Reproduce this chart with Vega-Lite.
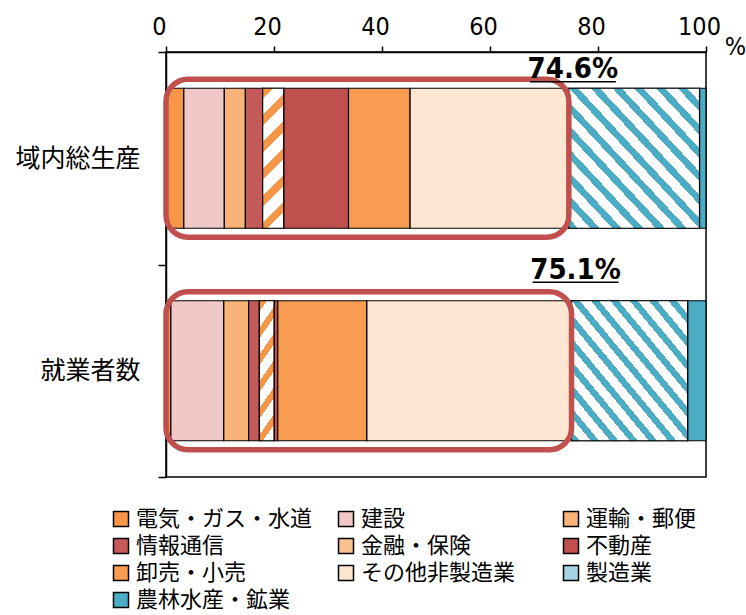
{
  "$schema": "https://vega.github.io/schema/vega-lite/v6.json",
  "autosize": {"type": "none"},
  "width": 540,
  "height": 425,
  "padding": {"left": 166, "top": 52, "right": 40, "bottom": 138},
  "background": "white",
  "view": {"stroke": "black", "strokeWidth": 1.5},
  "config": {"font": "Noto Sans CJK JP"},
  "datasets": {
    "bars": [
      {"cat": "域内総生産", "sector": "電気・ガス・水道", "ord": 1, "value": 3.3},
      {"cat": "域内総生産", "sector": "建設", "ord": 2, "value": 7.5},
      {"cat": "域内総生産", "sector": "運輸・郵便", "ord": 3, "value": 3.9},
      {"cat": "域内総生産", "sector": "情報通信", "ord": 4, "value": 3.2},
      {"cat": "域内総生産", "sector": "金融・保険", "ord": 5, "value": 3.9},
      {"cat": "域内総生産", "sector": "不動産", "ord": 6, "value": 12.0},
      {"cat": "域内総生産", "sector": "卸売・小売", "ord": 7, "value": 11.4},
      {"cat": "域内総生産", "sector": "その他非製造業", "ord": 8, "value": 29.4},
      {"cat": "域内総生産", "sector": "製造業", "ord": 9, "value": 24.2},
      {"cat": "域内総生産", "sector": "農林水産・鉱業", "ord": 10, "value": 1.2},
      {"cat": "就業者数", "sector": "電気・ガス・水道", "ord": 1, "value": 0.9},
      {"cat": "就業者数", "sector": "建設", "ord": 2, "value": 9.8},
      {"cat": "就業者数", "sector": "運輸・郵便", "ord": 3, "value": 4.6},
      {"cat": "就業者数", "sector": "情報通信", "ord": 4, "value": 2.0},
      {"cat": "就業者数", "sector": "金融・保険", "ord": 5, "value": 2.7},
      {"cat": "就業者数", "sector": "不動産", "ord": 6, "value": 0.7},
      {"cat": "就業者数", "sector": "卸売・小売", "ord": 7, "value": 16.5},
      {"cat": "就業者数", "sector": "その他非製造業", "ord": 8, "value": 37.9},
      {"cat": "就業者数", "sector": "製造業", "ord": 9, "value": 21.5},
      {"cat": "就業者数", "sector": "農林水産・鉱業", "ord": 10, "value": 3.4}
    ],
    "svc": [
      {"cat": "域内総生産", "total": 74.6, "label": "74.6%"},
      {"cat": "就業者数", "total": 75.1, "label": "75.1%"}
    ]
  },
  "layer": [
    {
      "data": {"name": "bars"},
      "transform": [{"stack": "value", "groupby": ["cat"], "sort": [{"field": "ord", "order": "ascending"}], "as": ["x0", "x1"]}],
      "mark": {"type": "bar", "stroke": "black", "strokeWidth": 1.2, "opacity": 1, "size": 140},
      "encoding": {
        "y": {
          "field": "cat", "type": "nominal",
          "scale": {"domain": ["域内総生産", "就業者数"], "paddingInner": 0, "paddingOuter": 0},
          "axis": {
            "title": null, "tickBand": "extent", "labelFontSize": 25, "labelFont": "Noto Sans CJK JP",
            "labelColor": "black", "tickColor": "black", "tickSize": 8, "tickWidth": 1.5,
            "domainColor": "black", "domainWidth": 1.5, "labelPadding": 18, "grid": false
          }
        },
        "x": {
          "field": "x0", "type": "quantitative",
          "scale": {"domain": [0, 100], "nice": false, "zero": true},
          "axis": {
            "orient": "top", "values": [0, 20, 40, 60, 80, 100], "grid": false,
            "labelFont": "Liberation Sans Narrow, DejaVu Sans Condensed, Liberation Sans, sans-serif", "labelFontSize": 25, "labelColor": "black",
            "labelFlush": false, "labelOffset": -7, "labelPadding": 7,
            "tickColor": "black", "tickSize": 6, "tickWidth": 1.5,
            "domainColor": "black", "domainWidth": 1.5,
            "title": "%", "titleFont": "Liberation Sans Narrow, DejaVu Sans Condensed, Liberation Sans, sans-serif", "titleFontSize": 25, "titleFontWeight": "normal",
            "titleColor": "black", "titleX": 569, "titleY": -6, "titleAlign": "center", "titleBaseline": "middle", "titleAngle": 0
          }
        },
        "x2": {"field": "x1"},
        "color": {
          "field": "sector", "type": "nominal",
          "scale": {
            "domain": ["電気・ガス・水道", "建設", "運輸・郵便", "情報通信", "金融・保険", "不動産", "卸売・小売", "その他非製造業", "製造業", "農林水産・鉱業"],
            "range": ["#F79646", "#F0C8C7", "#F9B277", "#C45B58", "#FAC090", "#C0504D", "#F79C50", "#FDE6D2", "#A5D5E2", "#4BACC6"]
          },
          "legend": {
            "title": null, "orient": "none", "direction": "horizontal", "legendX": -56, "legendY": 456, "columns": 3, "gridAlign": "all",
            "columnPadding": 22, "rowPadding": 5, "padding": 0,
            "symbolType": "square", "symbolSize": 225, "symbolStrokeColor": "black", "symbolStrokeWidth": 1.5, "symbolOpacity": 1,
            "labelFont": "Noto Sans CJK JP", "labelFontSize": 22, "labelColor": "black", "labelOffset": 4, "labelLimit": 400
          }
        }
      }
    },
    {
      "data": {"name": "bars"},
      "transform": [
        {"stack": "value", "groupby": ["cat"], "sort": [{"field": "ord", "order": "ascending"}], "as": ["x0", "x1"]},
        {"filter": "datum.sector === '製造業'"}
      ],
      "mark": {
        "type": "bar", "stroke": "black", "strokeWidth": 1.2, "size": 140,
        "color": {
          "gradient": "linear", "x1": 0, "y1": 1, "x2": 1, "y2": 0,
          "stops": [
            {"offset": 0, "color": "#4BACC6"}, {"offset": 0.035, "color": "#4BACC6"}, {"offset": 0.035, "color": "#ffffff"}, {"offset": 0.0833, "color": "#ffffff"},
            {"offset": 0.0833, "color": "#4BACC6"}, {"offset": 0.1183, "color": "#4BACC6"}, {"offset": 0.1183, "color": "#ffffff"}, {"offset": 0.1667, "color": "#ffffff"},
            {"offset": 0.1667, "color": "#4BACC6"}, {"offset": 0.2017, "color": "#4BACC6"}, {"offset": 0.2017, "color": "#ffffff"}, {"offset": 0.25, "color": "#ffffff"},
            {"offset": 0.25, "color": "#4BACC6"}, {"offset": 0.285, "color": "#4BACC6"}, {"offset": 0.285, "color": "#ffffff"}, {"offset": 0.3333, "color": "#ffffff"},
            {"offset": 0.3333, "color": "#4BACC6"}, {"offset": 0.3683, "color": "#4BACC6"}, {"offset": 0.3683, "color": "#ffffff"}, {"offset": 0.4167, "color": "#ffffff"},
            {"offset": 0.4167, "color": "#4BACC6"}, {"offset": 0.4517, "color": "#4BACC6"}, {"offset": 0.4517, "color": "#ffffff"}, {"offset": 0.5, "color": "#ffffff"},
            {"offset": 0.5, "color": "#4BACC6"}, {"offset": 0.535, "color": "#4BACC6"}, {"offset": 0.535, "color": "#ffffff"}, {"offset": 0.5833, "color": "#ffffff"},
            {"offset": 0.5833, "color": "#4BACC6"}, {"offset": 0.6183, "color": "#4BACC6"}, {"offset": 0.6183, "color": "#ffffff"}, {"offset": 0.6667, "color": "#ffffff"},
            {"offset": 0.6667, "color": "#4BACC6"}, {"offset": 0.7017, "color": "#4BACC6"}, {"offset": 0.7017, "color": "#ffffff"}, {"offset": 0.75, "color": "#ffffff"},
            {"offset": 0.75, "color": "#4BACC6"}, {"offset": 0.785, "color": "#4BACC6"}, {"offset": 0.785, "color": "#ffffff"}, {"offset": 0.8333, "color": "#ffffff"},
            {"offset": 0.8333, "color": "#4BACC6"}, {"offset": 0.8683, "color": "#4BACC6"}, {"offset": 0.8683, "color": "#ffffff"}, {"offset": 0.9167, "color": "#ffffff"},
            {"offset": 0.9167, "color": "#4BACC6"}, {"offset": 0.9517, "color": "#4BACC6"}, {"offset": 0.9517, "color": "#ffffff"}, {"offset": 1, "color": "#ffffff"}
          ]
        }
      },
      "encoding": {
        "y": {"field": "cat", "type": "nominal"},
        "x": {"field": "x0", "type": "quantitative"},
        "x2": {"field": "x1"}
      }
    },
    {
      "data": {"name": "bars"},
      "transform": [
        {"stack": "value", "groupby": ["cat"], "sort": [{"field": "ord", "order": "ascending"}], "as": ["x0", "x1"]},
        {"filter": "datum.sector === '金融・保険'"}
      ],
      "mark": {
        "type": "bar", "stroke": "black", "strokeWidth": 1.2, "size": 140,
        "color": {
          "gradient": "linear", "x1": 0, "y1": 0, "x2": 0.169, "y2": 1.125,
          "stops": [
            {"offset": 0, "color": "#F79646"}, {"offset": 0.0667, "color": "#F79646"}, {"offset": 0.0667, "color": "#ffffff"}, {"offset": 0.1667, "color": "#ffffff"},
            {"offset": 0.1667, "color": "#F79646"}, {"offset": 0.2333, "color": "#F79646"}, {"offset": 0.2333, "color": "#ffffff"}, {"offset": 0.3333, "color": "#ffffff"},
            {"offset": 0.3333, "color": "#F79646"}, {"offset": 0.4, "color": "#F79646"}, {"offset": 0.4, "color": "#ffffff"}, {"offset": 0.5, "color": "#ffffff"},
            {"offset": 0.5, "color": "#F79646"}, {"offset": 0.5667, "color": "#F79646"}, {"offset": 0.5667, "color": "#ffffff"}, {"offset": 0.6667, "color": "#ffffff"},
            {"offset": 0.6667, "color": "#F79646"}, {"offset": 0.7333, "color": "#F79646"}, {"offset": 0.7333, "color": "#ffffff"}, {"offset": 0.8333, "color": "#ffffff"},
            {"offset": 0.8333, "color": "#F79646"}, {"offset": 0.9, "color": "#F79646"}, {"offset": 0.9, "color": "#ffffff"}, {"offset": 1, "color": "#ffffff"}
          ]
        }
      },
      "encoding": {
        "y": {"field": "cat", "type": "nominal"},
        "x": {"field": "x0", "type": "quantitative"},
        "x2": {"field": "x1"}
      }
    },
    {
      "data": {"name": "svc"},
      "mark": {"type": "bar", "fill": "transparent", "stroke": "#C0504D", "strokeWidth": 5.5, "cornerRadius": 22, "size": 158},
      "encoding": {
        "y": {"field": "cat", "type": "nominal"},
        "x": {"field": "total", "type": "quantitative"},
        "x2": {"datum": 0}
      }
    },
    {
      "data": {"name": "svc"},
      "mark": {
        "type": "text", "font": "Liberation Sans Narrow, DejaVu Sans Condensed, Liberation Sans, sans-serif", "fontWeight": "bold", "fontSize": 29, "fill": "black",
        "align": "center", "baseline": "alphabetic", "dx": 4,
        "dy": {"expr": "datum.cat === '域内総生産' ? -80 : -92"}
      },
      "encoding": {
        "y": {"field": "cat", "type": "nominal"},
        "x": {"field": "total", "type": "quantitative"},
        "text": {"field": "label", "type": "nominal"}
      }
    },
    {
      "data": {"name": "svc"},
      "mark": {
        "type": "rule", "stroke": "black", "strokeWidth": 1.5, "xOffset": -39, "x2Offset": 47,
        "yOffset": {"expr": "datum.cat === '域内総生産' ? -76.5 : -88.5"}
      },
      "encoding": {
        "y": {"field": "cat", "type": "nominal"},
        "x": {"field": "total", "type": "quantitative"},
        "x2": {"field": "total"}
      }
    }
  ]
}
